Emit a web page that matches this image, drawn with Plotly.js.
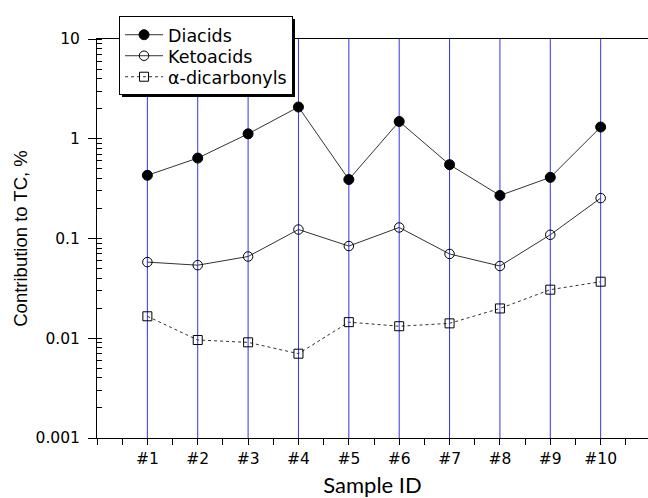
<!DOCTYPE html>
<html>
<head>
<meta charset="utf-8">
<script src="https://cdn.plot.ly/plotly-3.0.1.min.js"></script>
<style>html,body{margin:0;padding:0;background:#fff;}#chart{width:648px;height:498px;}</style>
</head>
<body>
<div id="chart"></div>
<script>
const samplePos = [1, 2, 3, 4, 5, 6, 7, 8, 9, 10];
const sampleLabels = ['#1', '#2', '#3', '#4', '#5', '#6', '#7', '#8', '#9', '#10'];
const diacids = [0.43, 0.64, 1.12, 2.08, 0.39, 1.49, 0.55, 0.27, 0.41, 1.31];
const ketoacids = [0.058, 0.054, 0.066, 0.123, 0.084, 0.129, 0.070, 0.053, 0.109, 0.254];
const dicarbonyls = [0.0166, 0.0096, 0.0091, 0.0070, 0.0145, 0.0132, 0.0141, 0.0199, 0.0307, 0.0369];
const yTickVals = [0.001, 0.01, 0.1, 1, 10];
const yTickText = ['0.001', '0.01', '0.1', '1', '10'];

const ARIAL = 'Liberation Sans, Arial, sans-serif';
const WIDE = 'DejaVu Sans, Verdana, sans-serif';

const traces = [
  {x: samplePos, y: diacids, name: 'Diacids', type: 'scatter', mode: 'lines+markers',
   line: {color: '#333', width: 1}, marker: {symbol: 'circle', size: 10, color: '#000', line: {color: '#000', width: 1}}},
  {x: samplePos, y: ketoacids, name: 'Ketoacids', type: 'scatter', mode: 'lines+markers',
   line: {color: '#333', width: 1}, marker: {symbol: 'circle-open', size: 9.5, color: '#000', line: {color: '#000', width: 1}}},
  {x: samplePos, y: dicarbonyls, name: 'α-dicarbonyls', type: 'scatter', mode: 'lines+markers',
   line: {color: '#333', width: 1, dash: '3px,3px'}, marker: {symbol: 'square-open', size: 9, color: '#000', line: {color: '#000', width: 1}}}
];

// vertical blue lines at every sample position, drawn through the x axis
const gridShapes = samplePos.map(p => ({
  type: 'line', xref: 'x', yref: 'paper', x0: p, x1: p, y0: 0, y1: 1,
  line: {color: 'rgb(50,50,245)', width: 1}, layer: 'below'
}));

const layout = {
  width: 648, height: 498,
  margin: {l: 97, r: 0, t: 39, b: 60},
  paper_bgcolor: '#fff', plot_bgcolor: '#fff',
  font: {family: ARIAL, color: '#000', size: 15},
  showlegend: true,
  legend: {x: 0.04, xanchor: 'left', y: 1.058, yanchor: 'top', bgcolor: '#fff',
           bordercolor: '#000', borderwidth: 1, font: {family: WIDE, size: 17.5, color: '#000'},
           itemwidth: 38, tracegroupgap: 0},
  xaxis: {
    range: [0, 10.94], tickmode: 'array', tickvals: samplePos, ticktext: sampleLabels,
    showgrid: false, zeroline: false,
    showline: true, linecolor: '#000', linewidth: 1, mirror: true,
    ticks: 'outside', ticklen: 6, tickcolor: '#000',
    minor: {tick0: 0, dtick: 0.5, ticks: 'outside', ticklen: 6, tickcolor: '#000', showgrid: false},
    tickfont: {family: WIDE, size: 15.5},
    title: {text: 'Sample ID', font: {family: 'Lato, Open Sans, sans-serif', size: 22}, standoff: 11}
  },
  yaxis: {
    type: 'log', range: [-3, 1], tickmode: 'array', tickvals: yTickVals, ticktext: yTickText,
    showgrid: false, zeroline: false, showline: true, linecolor: '#000', linewidth: 1,
    ticks: 'outside', ticklen: 8, tickcolor: '#000', ticklabelstandoff: 5,
    minor: {dtick: 'D1', ticks: 'inside', ticklen: 5, tickcolor: '#000', showgrid: false},
    tickfont: {family: WIDE, size: 15.5},
    title: {text: 'Contribution to TC, %', font: {family: ARIAL, size: 18.5}, standoff: 3}
  },
  shapes: gridShapes
};

Plotly.newPlot('chart', traces, layout, {displayModeBar: false, staticPlot: true}).then(() => {
  // tighten legend rows to the reference spacing, then add a drop shadow
  const legend = document.querySelector('.legend');
  const bg = legend && legend.querySelector('.bg');
  const items = legend ? legend.querySelectorAll('.traces') : [];
  const rowGap = 21;
  let firstY = null;
  items.forEach((g, i) => {
    const m = /translate\(([-\d.]+),\s*([-\d.]+)\)/.exec(g.getAttribute('transform') || '');
    if (!m) return;
    if (firstY === null) firstY = parseFloat(m[2]);
    g.setAttribute('transform', 'translate(' + m[1] + ',' + (firstY + i * rowGap) + ')');
  });
  if (bg && firstY !== null) {
    const h = firstY + (items.length - 1) * rowGap + firstY - 2;
    bg.setAttribute('height', h);
  }
  if (bg) {
    const sh = bg.cloneNode(false);
    sh.removeAttribute('class');
    sh.setAttribute('style', 'fill:#000;stroke:none;');
    sh.setAttribute('transform', 'translate(2.5,3)');
    bg.parentNode.insertBefore(sh, bg);
  }
});
</script>
</body>
</html>
